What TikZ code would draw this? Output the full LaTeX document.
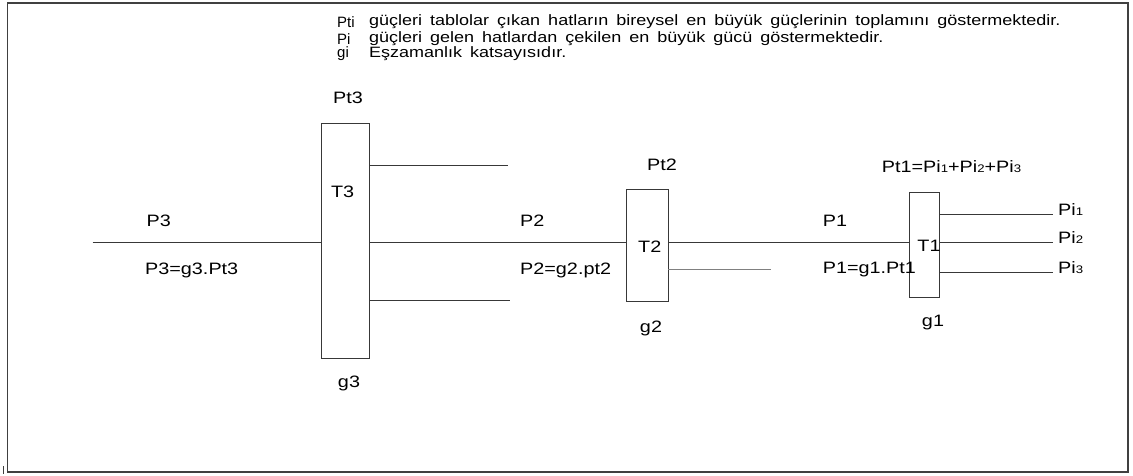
\documentclass[tikz,border=0pt]{standalone}
\usepackage{fontspec}
\setmainfont{Liberation Sans}[FakeStretch=1.2]
\newfontfamily\keyfont{Liberation Sans}
\newcommand{\notefont}{\fontsize{15}{17}\selectfont\spaceskip=8pt\relax}
\tikzset{
  wire/.style={draw=black!78, line width=0.8pt},
  lightwire/.style={draw=black!50, line width=0.8pt},
  panel/.style={draw=black!78, line width=0.9pt, inner sep=0pt, fill=none},
  lbl/.style={inner sep=0pt, font=\fontsize{16.5}{18}\selectfont},
  note/.style={inner sep=0pt, anchor=west, font=\notefont},
  notekey/.style={inner sep=0pt, anchor=west, font=\keyfont\fontsize{15}{17}\selectfont},
}
\newcommand{\sm}[1]{{\fontsize{11}{12}\selectfont #1}}
\begin{document}
\begin{tikzpicture}[x=1pt,y=-1pt]
\useasboundingbox (0,0) rectangle (1133,476);
% outer frame
\draw[black!75, line width=1.1pt] (7.5,3) rectangle (1128,472);
\draw[black!75, line width=0.8pt] (3,466) -- (3,474);

% legend
\node[notekey] (k1) at (337,22) {Pti};
\node[note] (t1) at (369,22) {güçleri tablolar çıkan hatların bireysel en büyük güçlerinin toplamını göstermektedir.};
\node[notekey] (k2) at (337,39) {Pi};
\node[note] (t2) at (369,39) {güçleri gelen hatlardan çekilen en büyük gücü göstermektedir.};
\node[notekey] (k3) at (337,54) {gi};
\node[note] (t3) at (369,54) {Eşzamanlık katsayısıdır.};

% distribution panels
\node[panel, minimum width=48, minimum height=235] (T3) at (345,240.8) {};
\node[panel, minimum width=41.3, minimum height=111.7] (T2) at (647.3,245.8) {};
\node[panel, minimum width=30, minimum height=105] (T1) at (924.3,244.8) {};

% line ends
\coordinate (feed) at (92.7,242.3);
\coordinate (a3) at (508,165.3);
\coordinate (b3) at (510,300.3);
\coordinate (a2) at (770.7,269.3);
\coordinate (o1) at (1053,214);
\coordinate (o2) at (1053,242.3);
\coordinate (o3) at (1053,272);

% main feeder through the panels
\draw[wire] (feed) -- (feed -| T3.west);
\draw[wire] (feed -| T3.east) -- (feed -| T2.west);
\draw[wire] (feed -| T2.east) -- (feed -| T1.west);
\draw[wire] (o2 -| T1.east) -- (o2);
% outgoing lines
\draw[wire] (a3 -| T3.east) -- (a3);
\draw[wire] (b3 -| T3.east) -- (b3);
\draw[lightwire] (a2 -| T2.east) -- (a2);
\draw[wire] (o1 -| T1.east) -- (o1);
\draw[wire] (o3 -| T1.east) -- (o3);

% labels of panel T3
\node[lbl] (pt3) at (348,98) {Pt3};
\node[lbl] (n3) at (342.7,192) {T3};
\node[lbl] (g3) at (349,383) {g3};
\node[lbl] (p3) at (158.8,221) {P3};
\node[lbl, anchor=west] (e3) at (145,270) {P3=g3.Pt3};

% labels of panel T2
\node[lbl] (pt2) at (662,165) {Pt2};
\node[lbl] (n2) at (649.7,246.7) {T2};
\node[lbl] (g2) at (651,328) {g2};
\node[lbl, anchor=west] (p2) at (520,221) {P2};
\node[lbl, anchor=west] (e2) at (520,270.7) {P2=g2.pt2};

% labels of panel T1
\node[lbl, anchor=west] (pt1) at (881.7,166.7) {Pt1=Pi\sm{1}+Pi\sm{2}+Pi\sm{3}};
\node[lbl] (n1) at (929,245.7) {T1};
\node[lbl] (g1) at (933,322.7) {g1};
\node[lbl, anchor=west] (p1) at (822.7,221) {P1};
\node[lbl, anchor=west] (e1) at (822.7,270) {P1=g1.Pt1};
\node[lbl, anchor=west] (q1) at (1058,209.3) {Pi\sm{1}};
\node[lbl, anchor=west] (q2) at (1058,237.7) {Pi\sm{2}};
\node[lbl, anchor=west] (q3) at (1058,267.3) {Pi\sm{3}};
\end{tikzpicture}
\end{document}
